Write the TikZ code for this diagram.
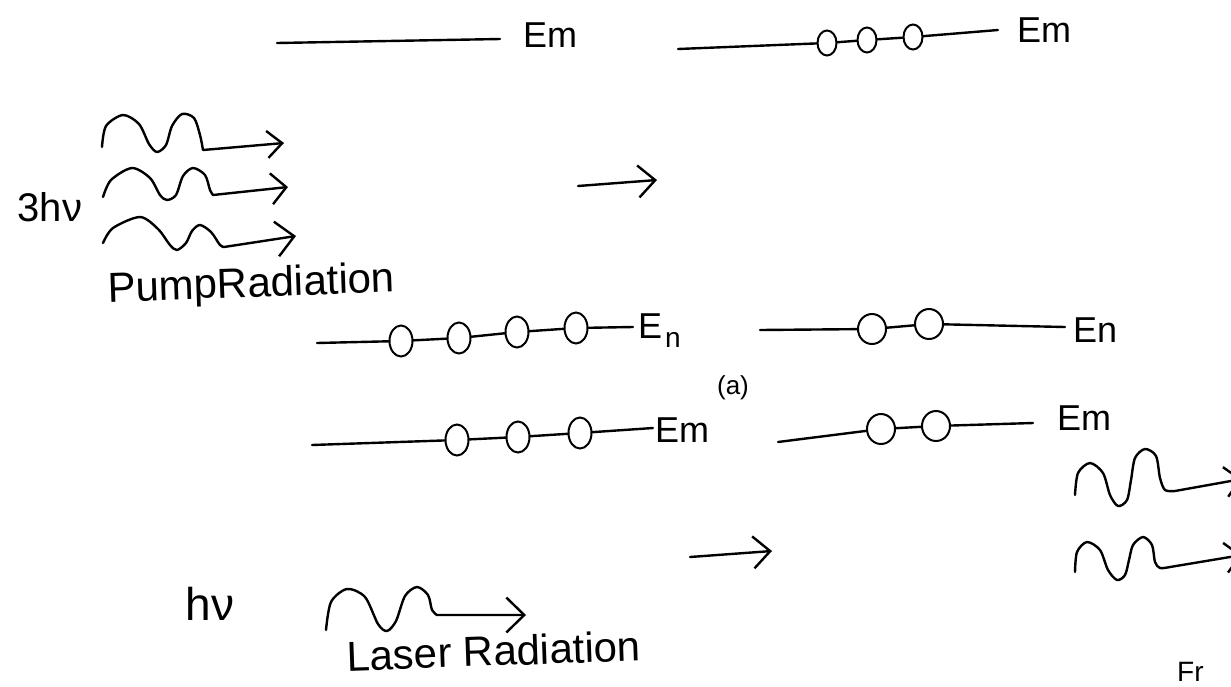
\documentclass[tikz,border=0pt]{standalone}
\usepackage{fontspec}
\setmainfont{Liberation Sans}
\usetikzlibrary{shapes.geometric,arrows.meta}
\tikzset{
  ink/.style={line width=2.4pt, line cap=round, line join=round, black},
  atom/.style={ellipse, draw, line width=2pt, fill=white, inner sep=0pt},
  atomT/.style={atom, minimum width=19pt, minimum height=25pt},
  atomM/.style={atom, minimum width=23pt, minimum height=31pt},
  atomR/.style={atom, minimum width=28pt, minimum height=30pt},
  lbl/.style={font=\fontsize{36}{40}\selectfont, inner sep=0pt},
  big/.style={font=\fontsize{42}{46}\selectfont, inner sep=0pt},
  barb/.style={-{Straight Barb[length=17pt,width=32pt]}},
}
\begin{document}
\begin{tikzpicture}[x=1pt,y=-1pt]
\useasboundingbox (0,0) rectangle (1231,686);
\fill[white] (0,0) rectangle (1231,686);
\clip (0,0) rectangle (1231,686);

% ---------- top left level ----------
\coordinate (tl0) at (277,43);
\coordinate (tl1) at (500,39);
\draw[ink] (tl0) -- (tl1);
\node[lbl, anchor=base west] (tlE) at (523,47) {Em};

% ---------- top right level ----------
\coordinate (tr0) at (678,49);
\coordinate (tr1) at (998,30);
\node[atomT] (t1) at (827,43) {};
\node[atomT] (t2) at (867,40) {};
\node[atomT] (t3) at (913,37) {};
\draw[ink] (tr0) -- (t1) -- (t2) -- (t3) -- (tr1);
\node[lbl, anchor=base west] (trE) at (1017,42) {Em};

% ---------- pump radiation ----------
\node[font=\fontsize{40}{44}\selectfont, inner sep=0pt] (three) at (50,207) {3hν};
\coordinate (w1e) at (284,143);
\coordinate (w2e) at (288,187);
\coordinate (w3e) at (296,236);
\draw[ink, -{Straight Barb[length=15pt,width=27pt]}] plot[smooth] coordinates
  {(102,147) (106,126) (123,115) (139,124) (149,144) (157,152) (166,145) (172,126) (182,114) (194,118) (200,135) (203,150)} -- (w1e);
\draw[ink, -{Straight Barb[length=15pt,width=31pt]}] plot[smooth] coordinates
  {(103,197) (111,180) (132,168) (150,178) (160,195) (167,200) (176,195) (183,176) (193,168) (205,175) (210,190) (213,195)} -- (w2e);
\draw[ink, -{Straight Barb[length=18pt,width=35pt]}] plot[smooth] coordinates
  {(103,243) (113,228) (140,217) (158,229) (170,245) (177,250) (186,243) (192,231) (200,225) (211,232) (220,245) (224,247)} -- (w3e);
\node[big, anchor=base west, rotate=2] (pump) at (108,302) {PumpRadiation};

% ---------- middle arrows ----------
\coordinate (a1s) at (578,186);
\coordinate (a1e) at (657,180);
\draw[ink, barb] (a1s) -- (a1e);
\coordinate (a2s) at (690,557);
\coordinate (a2e) at (772,551);
\draw[ink, barb] (a2s) -- (a2e);

% ---------- (a) left: two levels ----------
\coordinate (m10) at (317,343);
\coordinate (m11) at (633,327);
\node[atomM] (m1a) at (401,341) {};
\node[atomM] (m1b) at (459,338) {};
\node[atomM] (m1c) at (517,332) {};
\node[atomM] (m1d) at (576,328) {};
\draw[ink] (m10) -- (m1a) -- (m1b) -- (m1c) -- (m1d) -- (m11);
\node[lbl, anchor=base west] (m1E) at (638,338) {E\kern3pt\raisebox{-9pt}{\fontsize{28}{30}\selectfont n}};

\coordinate (m20) at (312,445);
\coordinate (m21) at (653,428);
\node[atomM] (m2a) at (457,440) {};
\node[atomM] (m2b) at (518,437) {};
\node[atomM] (m2c) at (580,433) {};
\draw[ink] (m20) -- (m2a) -- (m2b) -- (m2c) -- (m21);
\node[lbl, anchor=base west] (m2E) at (655,442) {Em};

\node[font=\fontsize{26}{28}\selectfont, inner sep=0pt] (lab) at (733,388) {(a)};

% ---------- right: two levels ----------
\coordinate (r10) at (760,330);
\coordinate (r11) at (1065,327);
\node[atomR] (r1a) at (872,329) {};
\node[atomR] (r1b) at (929,324) {};
\draw[ink] (r10) -- (r1a) -- (r1b) -- (r11);
\node[lbl, anchor=base west] (r1E) at (1073,342) {En};

\coordinate (r20) at (778,442);
\coordinate (r21) at (1033,423);
\node[atomR] (r2a) at (881,429) {};
\node[atomR] (r2b) at (936,426) {};
\draw[ink] (r20) -- (r2a) -- (r2b) -- (r21);
\node[lbl, anchor=base west] (r2E) at (1057,430) {Em};

% ---------- emitted radiation (right) ----------
\coordinate (ra) at (1242,479);
\coordinate (rb) at (1242,555);
\draw[ink, -{Straight Barb[length=15pt,width=30pt]}] plot[smooth] coordinates
  {(1075,495) (1078,473) (1090,463) (1103,473) (1110,495) (1118,506) (1127,500) (1131,480) (1135,458) (1145,449) (1156,456) (1160,478) (1165,490) (1175,491)} -- (ra);
\draw[ink, -{Straight Barb[length=15pt,width=30pt]}] plot[smooth] coordinates
  {(1075,572) (1077,552) (1087,542) (1100,550) (1108,570) (1117,580) (1125,575) (1129,560) (1133,545) (1143,537) (1152,545) (1155,562) (1160,568) (1170,567)} -- (rb);
\node[font=\fontsize{28}{30}\selectfont, inner sep=0pt, anchor=north west] (fr) at (1177,662) {Fr};

% ---------- laser radiation ----------
\node[font=\fontsize{46}{50}\selectfont, inner sep=0pt] (hnu) at (210,604) {hν};
\coordinate (le) at (526,615);
\draw[ink, -{Straight Barb[length=18pt,width=35pt]}] plot[smooth] coordinates
  {(326,630) (331,602) (347,589) (365,597) (378,624) (387,631) (396,621) (405,596) (417,587) (428,595) (432,610) (437,615)} -- (le);
\node[big, anchor=base west, rotate=2] (laser) at (347,671) {Laser Radiation};
\end{tikzpicture}
\end{document}
